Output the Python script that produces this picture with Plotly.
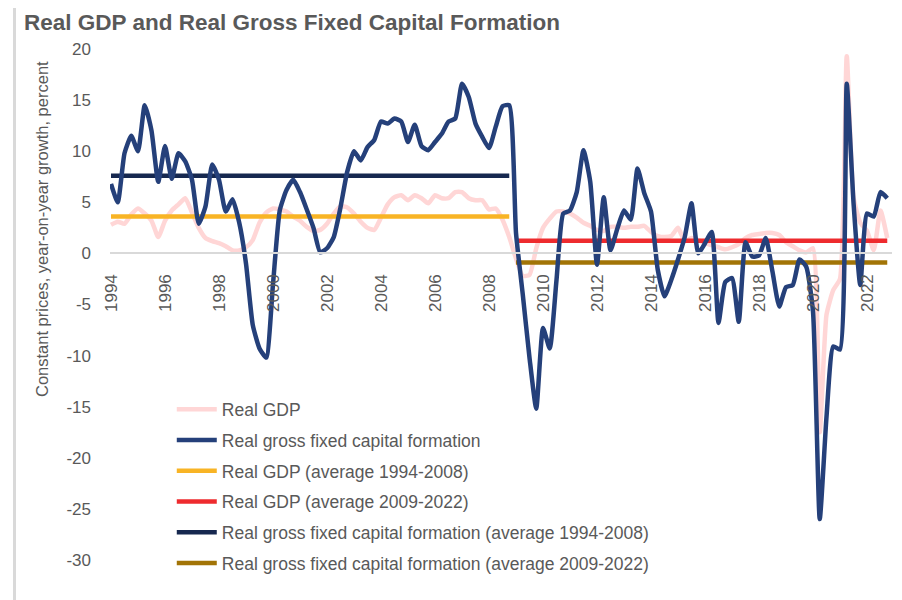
import plotly.graph_objects as go

# Quarterly data 1994Q1 .. 2022Q4
start_year = 1994
n_quarters = 116
quarters = [start_year + i / 4 for i in range(n_quarters)]

real_gdp = [
    2.8, 3.1, 2.9, 3.8, 4.4, 3.9, 3.2, 1.6, 3.2, 4.2, 4.8, 5.4,
    4.0, 2.5, 1.5, 1.2, 1.0, 0.7, 0.3, 0.3, 0.6, 1.3, 3.0, 4.0,
    4.4, 4.3, 4.1, 3.6, 3.2, 2.6, 2.2, 2.3, 2.9, 3.9, 4.6, 4.5,
    3.9, 3.1, 2.5, 2.3, 3.5, 4.8, 5.5, 5.7, 5.2, 5.7, 5.4, 4.9,
    5.7, 5.4, 5.4, 6.0, 6.0, 5.4, 5.2, 5.2, 4.3, 4.4, 3.3, 1.6,
    -0.5, -2.2, -2.1, 0.5, 2.5, 3.4, 4.1, 4.1, 3.9, 3.5, 3.0, 2.7,
    2.3, 2.2, 2.6, 2.6, 2.5, 2.6, 2.6, 2.7, 2.1, 1.7, 1.6, 1.7,
    2.5, 1.2, 1.5, 1.3, 1.0, 0.8, 0.6, 0.4, 0.6, 0.9, 1.5, 1.8,
    1.9, 2.0, 2.0, 1.8, 1.1, 0.7, 0.3, 0.1, 0.5, -17.5, -6.0, -3.6,
    -2.5, 19.3, 5.5, 3.0, 2.2, 0.3, 4.2, 1.5,
]

real_gfcf = [
    6.8, 5.0, 9.8, 11.5, 10.0, 14.5, 12.0, 7.0, 10.5, 7.3, 9.8, 9.0,
    7.2, 2.9, 4.6, 8.7, 7.2, 4.1, 5.3, 3.0, -1.0, -7.0, -9.3, -10.2,
    -3.0, 4.2, 6.2, 7.2, 6.0, 4.3, 2.5, 0.1, 0.5, 1.6, 4.5, 8.0,
    10.0, 9.1, 10.4, 11.1, 12.9, 12.7, 13.2, 12.9, 10.9, 12.6, 10.5, 10.1,
    10.9, 11.7, 12.9, 13.2, 16.6, 15.3, 12.7, 11.4, 10.3, 12.4, 14.4, 14.5,
    2.0, -4.0, -10.2, -15.2, -7.3, -9.3, -2.6, 3.9, 4.2, 6.0, 10.1, 7.0,
    -1.1, 5.5, 0.3, 2.4, 4.2, 3.3, 8.3, 5.9, 4.1, -1.6, -4.2, -2.6,
    -0.6, 1.6, 4.9, 0.0, 1.0, 2.1, -6.8, -2.8, -2.4, -6.7, 1.1, -0.3,
    -0.2, 1.5, -1.8, -5.2, -3.3, -3.1, -0.6, -1.3, -5.7, -26.0, -16.0, -9.1,
    -9.4, 16.6, 5.0, -3.1, 3.9, 3.6, 6.0, 5.4,
]

# Period averages
gdp_avg_1994_2008 = 3.6
gdp_avg_2009_2022 = 1.25
gfcf_avg_1994_2008 = 7.6
gfcf_avg_2009_2022 = -0.9

period1 = (0, 59)    # 1994Q1 .. 2008Q4
period2 = (60, 115)  # 2009Q1 .. 2022Q4

tick_years = list(range(1994, 2023, 2))
tick_labels = [str(y) for y in tick_years]
y_ticks = [20, 15, 10, 5, 0, -5, -10, -15, -20, -25, -30]
y_tick_labels = [str(v) for v in y_ticks]

GRAY = "#595959"
FONT = "Liberation Sans, Arial, sans-serif"

# The page body adds an 8px offset; figure coordinates below compensate.
W, H = 894, 592
L, T, R, B = 102, 41, 10, 40
PW, PH = W - L - R, H - T - B


def px_x(x):
    return (x - L) / PW


def px_y(y):
    return (H - B - y) / PH


fig = go.Figure()


def seg(idx):
    return [quarters[idx[0]], quarters[idx[1]]]


traces = [
    ("Real GDP", quarters, real_gdp, "#FFD6D6", True),
    ("Real gross fixed capital formation", quarters, real_gfcf, "#25407A", True),
    ("Real GDP (average 1994-2008)", seg(period1), [gdp_avg_1994_2008] * 2, "#F8B425", False),
    ("Real GDP (average 2009-2022)", seg(period2), [gdp_avg_2009_2022] * 2, "#EE2B2E", False),
    ("Real gross fixed capital formation (average 1994-2008)", seg(period1), [gfcf_avg_1994_2008] * 2, "#16284F", False),
    ("Real gross fixed capital formation (average 2009-2022)", seg(period2), [gfcf_avg_2009_2022] * 2, "#A27406", False),
]

draw_order = [0, 2, 3, 4, 5, 1]
for i in draw_order:
    name, xs, ys, color, smooth = traces[i]
    line = dict(color=color, width=4.5)
    if smooth:
        line.update(shape="spline", smoothing=0.5)
    fig.add_trace(go.Scatter(
        x=xs, y=ys, mode="lines", name=name, line=line,
        legendgroup=f"g{i}", legendrank=i + 1, hoverinfo="skip",
    ))

fig.update_layout(
    width=W, height=H,
    margin=dict(l=L, r=R, t=T, b=B),
    paper_bgcolor="white", plot_bgcolor="white",
    font=dict(family=FONT, color=GRAY, size=17),
    title=dict(
        text="<b>Real GDP and Real Gross Fixed Capital Formation</b>",
        xref="container", yref="container", x=16 / W, y=1 - 14 / H,
        xanchor="left", yanchor="middle",
        font=dict(size=22.5, color=GRAY, family=FONT),
    ),
    showlegend=True,
    legend=dict(
        x=0.079, y=0.330, xanchor="left", yanchor="top",
        bgcolor="rgba(0,0,0,0)", font=dict(size=17.5, color=GRAY),
        tracegroupgap=5, traceorder="grouped",
        itemwidth=40,
    ),
    xaxis=dict(
        range=[1994 - 1 / 27, 1994 + (892 - 111) / 27],
        tickmode="array", tickvals=tick_years, ticktext=tick_labels,
        tickangle=-90, showgrid=False, zeroline=False,
        showline=True, linecolor="#D9D9D9", linewidth=2,
        anchor="free", position=0.6,
        ticks="", ticklabelstandoff=13,
        tickfont=dict(size=17, color=GRAY),
    ),
    yaxis=dict(
        range=[-30, 20], tickmode="array", tickvals=y_ticks, ticktext=y_tick_labels,
        showgrid=False, zeroline=False, showline=False,
        ticks="", ticklabelstandoff=18,
        tickfont=dict(size=17, color=GRAY),
    ),
    annotations=[dict(
        text="Constant prices, year-on-year growth, percent",
        xref="paper", yref="paper", x=px_x(34), y=px_y(221),
        textangle=-90, showarrow=False, xanchor="center", yanchor="middle",
        font=dict(size=16.5, color=GRAY, family=FONT),
    )],
    shapes=[
        dict(type="line", xref="paper", yref="paper",
             x0=px_x(6.5), x1=px_x(6.5), y0=px_y(0), y1=px_y(H),
             line=dict(color="#D9D9D9", width=3)),
    ],
)

fig.write_html("out.html")
